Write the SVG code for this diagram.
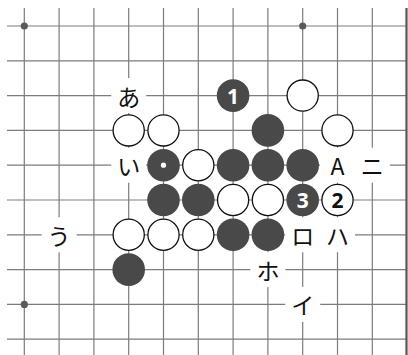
<svg xmlns="http://www.w3.org/2000/svg" width="408" height="355" viewBox="0 0 408 355">
<style>
.g{stroke:#7c7c7c;stroke-width:1.2;fill:none}
.edge{stroke:#555;stroke-width:2.2}
.hoshi{fill:#5a5a5a}
.b{fill:#494949}
.w{fill:#fff;stroke:#111;stroke-width:1.3}
.bg{fill:#fff}
.lb{font-family:"Noto Sans CJK JP","Noto Sans",sans-serif;font-size:23px;fill:#111;text-anchor:middle;dominant-baseline:central}
.nb{font-family:"Noto Sans","DejaVu Sans",sans-serif;font-size:21px;font-weight:bold;text-anchor:middle;dominant-baseline:central}
</style>
<rect width="408" height="355" fill="#fff"/>
<g id="grid">
<path class="g" d="M24.3 8V355M59.1 8V355M93.9 8V355M128.7 8V355M163.5 8V355M198.3 8V355M233.1 8V355M267.9 8V355M302.7 8V355M337.5 8V355M372.3 8V355"/>
<path class="g" d="M7 26H406M7 60.8H406M7 95.6H406M7 130.4H406M7 165.2H406M7 200H406M7 234.8H406M7 269.6H406M7 304.4H406M7 339.2H406"/>
<line class="edge" x1="406.5" y1="8" x2="406.5" y2="355"/>
<circle class="hoshi" cx="24.3" cy="26" r="3.6"/>
<circle class="hoshi" cx="302.7" cy="26" r="3.6"/>
<circle class="hoshi" cx="24.3" cy="304.4" r="3.6"/>
</g>
<g id="labels">
<g id="label-a"><rect class="bg" x="111.2" y="78.1" width="35" height="35"/><text class="lb" x="128.7" y="95.6">あ</text></g>
<g id="label-i"><rect class="bg" x="111.2" y="147.7" width="35" height="35"/><text class="lb" x="128.7" y="165.2">い</text></g>
<g id="label-u"><rect class="bg" x="41.6" y="217.3" width="35" height="35"/><text class="lb" x="59.1" y="234.8">う</text></g>
<g id="label-A"><rect class="bg" x="320" y="147.7" width="35" height="35"/><text class="lb" x="337.5" y="165.2">A</text></g>
<g id="label-ni"><rect class="bg" x="354.8" y="147.7" width="35" height="35"/><text class="lb" x="372.3" y="165.2">ニ</text></g>
<g id="label-ro"><rect class="bg" x="285.2" y="217.3" width="35" height="35"/><text class="lb" x="302.7" y="234.8">ロ</text></g>
<g id="label-ha"><rect class="bg" x="320" y="217.3" width="35" height="35"/><text class="lb" x="337.5" y="234.8">ハ</text></g>
<g id="label-ho"><rect class="bg" x="250.4" y="252.1" width="35" height="35"/><text class="lb" x="267.9" y="269.6">ホ</text></g>
<g id="label-i2"><rect class="bg" x="285.2" y="286.9" width="35" height="35"/><text class="lb" x="302.7" y="304.4">イ</text></g>
</g>
<g id="stones">
<g id="b1"><circle class="b" cx="233.1" cy="95.6" r="16.3"/><text class="nb" x="233.1" y="96" fill="#fff">1</text></g>
<circle id="w-c8r2" class="w" cx="302.7" cy="95.6" r="15.6"/>
<circle id="w-c3r3" class="w" cx="128.7" cy="130.4" r="15.6"/>
<circle id="w-c4r3" class="w" cx="163.5" cy="130.4" r="15.6"/>
<circle id="b-c7r3" class="b" cx="267.9" cy="130.4" r="16.3"/>
<circle id="w-c9r3" class="w" cx="337.5" cy="130.4" r="15.6"/>
<g id="b-marked"><circle class="b" cx="163.5" cy="165.2" r="16.3"/><circle cx="163.5" cy="165.2" r="2.6" fill="#fff"/></g>
<circle id="w-c5r4" class="w" cx="198.3" cy="165.2" r="15.6"/>
<circle id="b-c6r4" class="b" cx="233.1" cy="165.2" r="16.3"/>
<circle id="b-c7r4" class="b" cx="267.9" cy="165.2" r="16.3"/>
<circle id="b-c8r4" class="b" cx="302.7" cy="165.2" r="16.3"/>
<circle id="b-c4r5" class="b" cx="163.5" cy="200" r="16.3"/>
<circle id="b-c5r5" class="b" cx="198.3" cy="200" r="16.3"/>
<circle id="w-c6r5" class="w" cx="233.1" cy="200" r="15.6"/>
<circle id="w-c7r5" class="w" cx="267.9" cy="200" r="15.6"/>
<g id="b3"><circle class="b" cx="302.7" cy="200" r="16.3"/><text class="nb" x="302.7" y="200.4" fill="#fff">3</text></g>
<g id="w2"><circle class="w" cx="337.5" cy="200" r="15.6"/><text class="nb" x="337.5" y="200.4" fill="#111">2</text></g>
<circle id="w-c3r6" class="w" cx="128.7" cy="234.8" r="15.6"/>
<circle id="w-c4r6" class="w" cx="163.5" cy="234.8" r="15.6"/>
<circle id="w-c5r6" class="w" cx="198.3" cy="234.8" r="15.6"/>
<circle id="b-c6r6" class="b" cx="233.1" cy="234.8" r="16.3"/>
<circle id="b-c7r6" class="b" cx="267.9" cy="234.8" r="16.3"/>
<circle id="b-c3r7" class="b" cx="128.7" cy="269.6" r="16.3"/>
</g>
</svg>
